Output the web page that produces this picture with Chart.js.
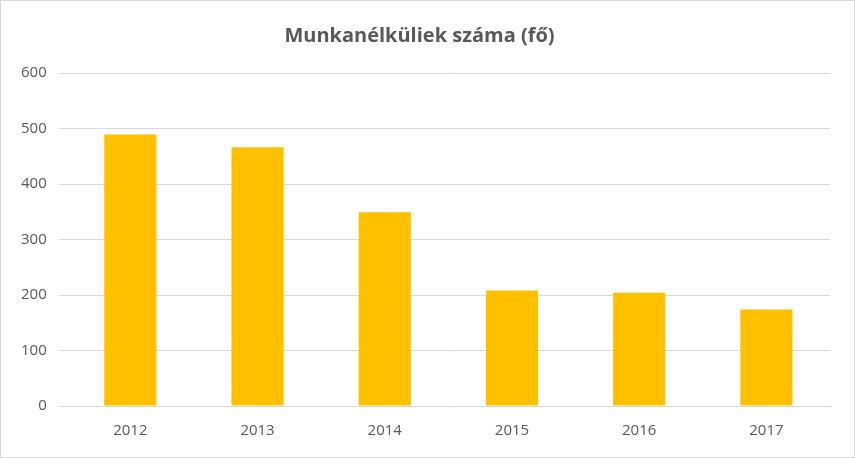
<!DOCTYPE html>
<html>
<head>
<meta charset="utf-8">
<script src="https://cdn.jsdelivr.net/npm/chart.js@4"></script>
<style>
  html, body { margin: 0; padding: 0; background: #fff; }
  #wrap { position: absolute; left: 0; top: 0; width: 853px; height: 456px; border: 1px solid #d9d9d9; }
</style>
</head>
<body>
<div id="wrap"><canvas id="chart"></canvas></div>
<script>
const years = ['2012', '2013', '2014', '2015', '2016', '2017'];
const unemployed = [489, 466, 349, 208, 204, 174];
const yTicks = [0, 100, 200, 300, 400, 500, 600];

new Chart(document.getElementById('chart'), {
  type: 'bar',
  data: {
    labels: years,
    datasets: [{
      label: 'Munkanélküliek száma (fő)',
      data: unemployed,
      backgroundColor: '#ffc000',
      categoryPercentage: 1,
      barPercentage: 0.41
    }]
  },
  options: {
    responsive: true,
    maintainAspectRatio: false,
    animation: false,
    layout: { padding: { left: 8, right: 24, top: 10, bottom: 9 } },
    plugins: {
      legend: { display: false },
      tooltip: { enabled: false },
      title: {
        display: true,
        text: 'Munkanélküliek száma (fő)',
        color: '#595959',
        font: { family: 'Open Sans', size: 20, weight: 'bold' },
        padding: { top: 13, bottom: 25 }
      }
    },
    scales: {
      x: {
        grid: { display: false },
        border: { color: '#d9d9d9' },
        ticks: { color: '#595959', font: { family: 'Open Sans', size: 15 }, padding: 8 }
      },
      y: {
        min: 0,
        max: 600,
        afterBuildTicks: axis => { axis.ticks = yTicks.map(v => ({ value: v })); },
        grid: { color: '#d9d9d9' },
        border: { display: false },
        ticks: { color: '#595959', font: { family: 'Open Sans', size: 15 }, padding: 12 }
      }
    }
  }
});
</script>
</body>
</html>
